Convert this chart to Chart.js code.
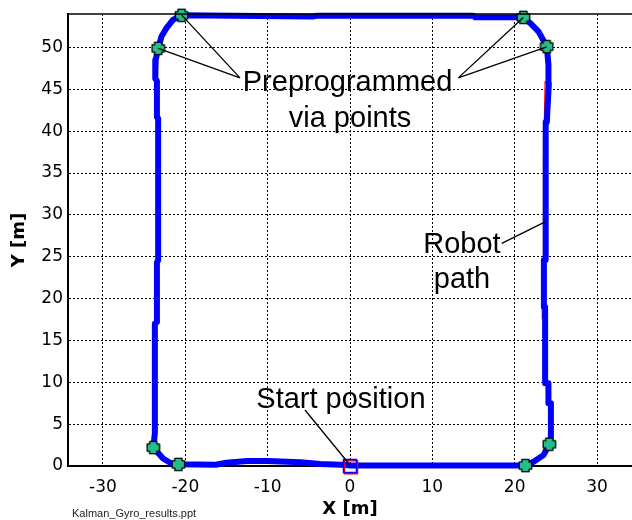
<!DOCTYPE html>
<html>
<head>
<meta charset="utf-8">
<script src="https://cdn.jsdelivr.net/npm/chart.js@4/dist/chart.umd.min.js"></script>
<style>
  html, body { margin: 0; padding: 0; background: #fff; }
  #wrap { width: 632px; height: 520px; position: relative; }
</style>
</head>
<body>
<div id="wrap"><canvas id="c" width="632" height="520"></canvas></div>
<script>
// Axis ticks
const xTicks = [-30, -20, -10, 0, 10, 20, 30];
const yTicks = [0, 5, 10, 15, 20, 25, 30, 35, 40, 45, 50];

// Recorded robot path (blue), starting and ending at the start position
const pathX = [0, 10, 20, 21.3, 22.3, 23.5, 24.2, 24.4, 24.4, 24.1, 24.1, 23.7, 23.7, 23.55, 23.55, 23.7, 23.7, 23.8, 23.8, 23.9, 24.15, 24.1, 23.9,
               22.9, 21.9, 21.05, 15.2, 15.0, -4.0, -4.5, -20.45,
               -21.5, -22.3, -22.9, -23.3, -23.6, -23.65, -23.45, -23.45, -23.3, -23.3, -23.45, -23.45, -23.7, -23.7, -23.9,
               -22.7, -21.7, -20.85, -16.3, -15.0, -12.5, -10.0, -6.0, -3.6, -0.4, 0];
const pathY = [0.05, 0.05, 0.05, 0.05, 0.5, 1.3, 2.6, 3.5, 7.5, 7.5, 9.9, 9.9, 19.0, 19.0, 24.6, 24.6, 36.9, 36.9, 41.1, 41.1, 45.7, 48.0, 50.1,
               51.9, 52.9, 53.6, 53.6, 53.8, 53.8, 53.7, 53.85,
               53.3, 52.3, 51.3, 49.9, 48.5, 46.3, 46.0, 41.7, 41.5, 24.6, 24.3, 17.2, 17.0, 3.9, 2.2,
               0.9, 0.3, 0.2, 0.15, 0.4, 0.6, 0.6, 0.45, 0.25, 0.12, 0.05];

// Reference track (red), running along the inner edge of the right-hand leg
const refX = [23.35, 23.35, 23.5, 23.5, 23.6, 23.6, 23.7];
const refY = [17.5, 24.6, 24.6, 36.9, 36.9, 41.1, 46.0];

// Preprogrammed via points
const viaX = [21.3, 24.2, 23.9, 21.05, -20.45, -23.3, -23.9, -20.85];
const viaY = [0.05, 2.6, 50.1, 53.6, 53.85, 49.9, 2.2, 0.2];

// Start position
const startX = [0];
const startY = [0];

// Callout texts (centre x, baseline y)
const noteText = ['Preprogrammed', 'via points', 'Robot', 'path', 'Start position'];
const noteX = [-0.3, 0.0, 13.6, 13.6, -1.1];
const noteY = [44.84, 40.54, 25.44, 21.26, 6.93];

// Callout leader lines
const leadFromX = [-13.36, -13.36, 13.15, 13.15, 18.43, -5.47];
const leadFromY = [46.37, 46.37, 46.37, 46.37, 26.59, 6.69];
const leadToX = [-20.44, -23.28, 21.05, 23.89, 23.69, 0.0];
const leadToY = [53.86, 49.88, 53.58, 50.07, 29.17, 0.12];

const pts = (xs, ys) => xs.map((v, i) => ({ x: v, y: ys[i] }));

// Fat plus marker for the via points
function plusMarker() {
  const c = document.createElement('canvas');
  c.width = 15; c.height = 15;
  const g = c.getContext('2d');
  const m = 7.5, a = 3.6, L = 6.2;
  g.beginPath();
  g.moveTo(m - a, m - L); g.lineTo(m + a, m - L); g.lineTo(m + a, m - a);
  g.lineTo(m + L, m - a); g.lineTo(m + L, m + a); g.lineTo(m + a, m + a);
  g.lineTo(m + a, m + L); g.lineTo(m - a, m + L); g.lineTo(m - a, m + a);
  g.lineTo(m - L, m + a); g.lineTo(m - L, m - a); g.lineTo(m - a, m - a);
  g.closePath();
  g.lineJoin = 'round';
  g.fillStyle = '#22bf8c';
  g.fill();
  g.lineWidth = 1.3;
  g.strokeStyle = '#000';
  g.stroke();
  return c;
}

const notes = {
  id: 'notes',
  afterDatasetsDraw(chart) {
    const { ctx, chartArea, scales: { x, y } } = chart;
    ctx.save();
    // upper frame line
    ctx.strokeStyle = '#000';
    ctx.lineWidth = 1.5;
    ctx.beginPath();
    ctx.moveTo(chartArea.left, chartArea.top);
    ctx.lineTo(chart.width, chartArea.top);
    ctx.stroke();
    // leader lines
    ctx.lineWidth = 1.3;
    ctx.beginPath();
    leadFromX.forEach((v, i) => {
      ctx.moveTo(x.getPixelForValue(v), y.getPixelForValue(leadFromY[i]));
      ctx.lineTo(x.getPixelForValue(leadToX[i]), y.getPixelForValue(leadToY[i]));
    });
    ctx.stroke();
    // callout texts
    ctx.fillStyle = '#000';
    ctx.font = '29px "Liberation Sans", Arial, sans-serif';
    ctx.textAlign = 'center';
    ctx.textBaseline = 'alphabetic';
    noteText.forEach((t, i) => {
      ctx.fillText(t, x.getPixelForValue(noteX[i]), y.getPixelForValue(noteY[i]));
    });
    // file tag
    ctx.font = '11px "Liberation Sans", Arial, sans-serif';
    ctx.textAlign = 'left';
    ctx.fillStyle = '#222';
    ctx.fillText('Kalman_Gyro_results.ppt', 72, 517);
    ctx.restore();
  }
};

const gridOpts = {
  color: '#000',
  lineWidth: 1,
  drawTicks: false
};

new Chart(document.getElementById('c'), {
  type: 'scatter',
  data: {
    datasets: [
      {
        data: pts(startX, startY),
        pointStyle: 'rect',
        pointRadius: 9.2,
        pointBorderWidth: 1.5,
        pointBorderColor: '#0000ff',
        pointBackgroundColor: 'rgba(0,0,0,0)',
        showLine: false,
        clip: false
      },
      {
        data: pts(startX, startY).map(p => ({ x: p.x + 0.12, y: p.y - 0.15 })),
        pointStyle: 'rect',
        pointRadius: 9.2,
        pointBorderWidth: 1.5,
        pointBorderColor: '#ff0000',
        pointBackgroundColor: 'rgba(0,0,0,0)',
        showLine: false,
        clip: false
      },
      {
        data: pts(viaX, viaY),
        pointStyle: plusMarker(),
        showLine: false,
        clip: false
      },
      {
        data: pts(pathX, pathY),
        showLine: true,
        borderColor: '#0000ff',
        borderWidth: 6,
        borderJoinStyle: 'round',
        borderCapStyle: 'round',
        pointRadius: 0,
        tension: 0,
        clip: false
      },
      {
        data: pts(refX, refY),
        showLine: true,
        borderColor: '#ff0000',
        borderWidth: 1.2,
        pointRadius: 0,
        tension: 0,
        clip: false
      }
    ]
  },
  options: {
    responsive: false,
    animation: false,
    devicePixelRatio: 1,
    events: [],
    layout: { autoPadding: false, padding: { top: 14, right: 0, bottom: 0, left: 0 } },
    plugins: { legend: { display: false }, tooltip: { enabled: false } },
    scales: {
      x: {
        type: 'linear',
        min: -34.25,
        max: 34.25,
        afterFit: s => { s.height = 54; s.paddingLeft = 0; s.paddingRight = 0; },
        afterBuildTicks: s => { s.ticks = xTicks.map(v => ({ value: v })); },
        grid: gridOpts,
        border: { display: true, color: '#000', width: 2, dash: [2, 2], dashOffset: 0 },
        ticks: {
          autoSkip: false, maxRotation: 0, padding: 11, color: '#000',
          font: { family: '"DejaVu Sans", sans-serif', size: 17 }
        },
        title: {
          display: true, text: 'X [m]', color: '#000',
          padding: { top: 0, bottom: 0 },
          font: { family: '"DejaVu Sans", sans-serif', size: 18, weight: 'bold' }
        }
      },
      y: {
        type: 'linear',
        min: 0,
        max: 54,
        afterFit: s => { s.width = 68; s.paddingTop = 0; s.paddingBottom = 0; },
        afterBuildTicks: s => { s.ticks = yTicks.map(v => ({ value: v })); },
        grid: gridOpts,
        border: { display: true, color: '#000', width: 2, dash: [2, 2] },
        ticks: {
          autoSkip: false, padding: 5, color: '#000',
          font: { family: '"DejaVu Sans", sans-serif', size: 17 }
        },
        title: {
          display: true, text: 'Y [m]', color: '#000',
          padding: { top: 9, bottom: 0 },
          font: { family: '"DejaVu Sans", sans-serif', size: 18, weight: 'bold' }
        }
      }
    }
  },
  plugins: [notes]
});
</script>
</body>
</html>
